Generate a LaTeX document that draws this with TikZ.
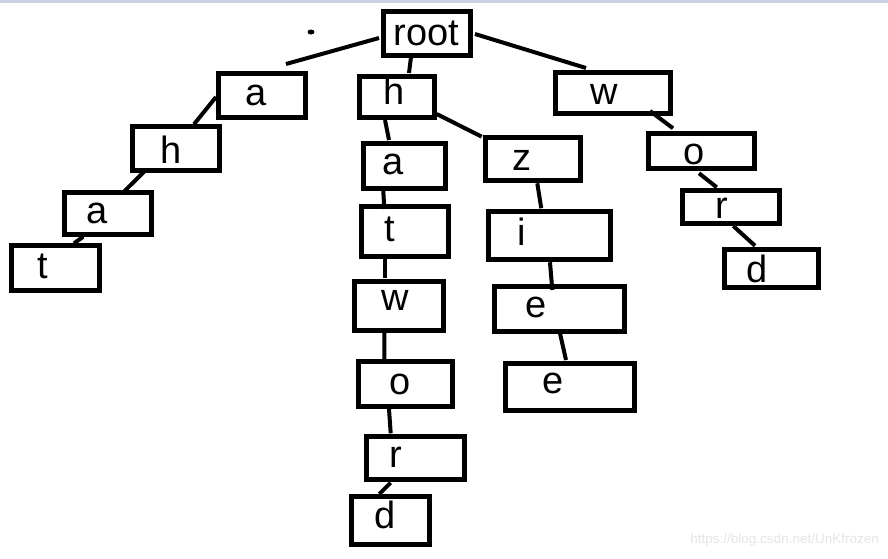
\documentclass[tikz,border=0pt]{standalone}
\usepackage{fontspec}
\setmainfont{Liberation Sans}
\usepackage{xcolor}
\usepackage{tikz}
\usetikzlibrary{calc}
\definecolor{topbar}{RGB}{200,211,228}
\definecolor{markgray}{RGB}{228,228,228}

\begin{document}
\begin{tikzpicture}[
  x=1pt, y=-1pt,
  box/.style={draw, line width=5pt, outer sep=0pt, inner sep=0pt},
  letter/.style={inner sep=0pt, text height=27pt, text depth=0pt,
    font=\fontsize{38}{40}\selectfont},
  link/.style={line width=4pt}
]
  \useasboundingbox (0,0) rectangle (888,558);
  \fill[topbar] (0,0) rectangle (888,2.5);

  % trie boxes: name/x/y/width/height/letter/text shift
  \foreach \n/\cx/\cy/\w/\h/\lab/\dx/\dy in {
      root/426.5/33/87/44/root/0/12,
      a/261.5/95/87/44/a/-5/10,
      ah/175.5/148.25/87/43.5/h/-4/15,
      aha/107.5/213/87/42/a/-10/10,
      ahat/55.25/267.5/87.5/45/t/-12/11,
      h/397/97/75/41/h/-2.5/7,
      ha/404/165.75/82/45.5/a/-10.7/9,
      hat/404.5/231.25/87/50.5/t/-15/10.5,
      hatw/398.75/305.5/89.5/49/w/-3.75/5,
      hatwo/405.5/384/94/45/o/-5.5/10,
      hatwor/415/457.5/98/43/r/-19/9.5,
      hatword/390/520.25/78/47.5/d/-4.5/8,
      hz/532.5/158.5/95/43/z/-11/11.5,
      hzi/549.25/235.25/121.5/47.5/i/-28/10,
      hzie/559/308.5/130/45/e/-22.5/8.5,
      hziee/569.5/386.5/129/47/e/-16.7/7,
      w/612.5/92.75/115/41.5/w/-8.5/12,
      wo/701/150.75/106/35.5/o/-7/14,
      wor/730.5/206.5/97/33/r/-9/11.5,
      word/771.25/268.25/93.5/38.5/d/-14.5/14} {
    \node[box, minimum width=\w pt, minimum height=\h pt,
      label={[letter, xshift=\dx pt, yshift={(13.5-\dy)*1pt}]center:\lab}] (\n) at (\cx,\cy) {};
  }

  % hand-drawn links, they stop short of the boxes
  \foreach \p/\px/\py/\q/\qx/\qy in {
      root/-47.5/5/a/24.5/-31,
      root/-15.5/24/h/12/-24,
      root/48.5/1/w/-26.5/-24.75,
      a/-45.5/2/ah/18.5/-24,
      ah/-31.5/23.5/aha/14.8/-19.7,
      aha/-24.2/23.7/ahat/18.75/-24.2,
      h/-12/23/ha/-15/-25.75,
      h/39.7/17/hz/-50.8/-21.8,
      ha/-20.7/25.25/hat/-20.2/-22.25,
      hat/-19.5/27.75/hatw/-13.75/-27.5,
      hatw/-14.5/26.2/hatwo/-21.2/-21.3,
      hatwo/-16.5/25/hatwor/-24.3/-24.2,
      hatwor/-24.3/25.2/hatword/-10.7/-26.25,
      hz/4.8/24.8/hzi/-8/-27,
      hzi/0.75/27/hzie/-6.7/-18.5,
      hzie/1/24.8/hziee/-3.5/-26.5,
      w/37.5/18.25/wo/-28/-22.45,
      wo/-2/22.5/wor/-13.8/-19.2,
      wor/2.8/19.5/word/-16.25/-22.5} {
    \draw[link] ($(\p)+(\px,\py)$) -- ($(\q)+(\qx,\qy)$);
  }

  % stray pen mark
  \fill (311,32) ellipse [x radius=3.5pt, y radius=2.5pt];

  \node[anchor=base east, inner sep=0pt, text=markgray,
    font=\fontsize{13.5}{15}\selectfont] (mark) at (879,543)
    {https://blog.csdn.net/UnKfrozen};
\end{tikzpicture}
\end{document}
